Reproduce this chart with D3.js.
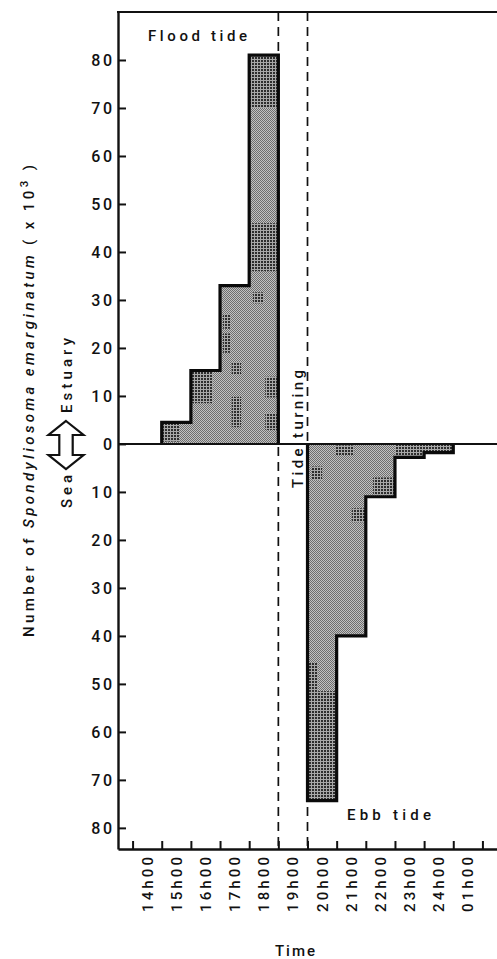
<!DOCTYPE html>
<html>
<head>
<meta charset="utf-8">
<script src="https://cdn.jsdelivr.net/npm/d3@7"></script>
<style>
  html, body { margin: 0; padding: 0; background: #fff; }
  svg { display: block; }
  text { font-family: Roboto, "Liberation Sans", sans-serif; font-weight: 500; fill: #111; }
</style>
</head>
<body>
<svg id="chart" width="497" height="959"></svg>
<script>
// One-hour sampling intervals, identified by their starting hour (24 = midnight, 25 = 01h00)
const hours = [14, 15, 16, 17, 18, 19, 20, 21, 22, 23, 24, 25];
const hourLabels = ["14h00", "15h00", "16h00", "17h00", "18h00", "19h00",
                    "20h00", "21h00", "22h00", "23h00", "24h00", "01h00"];

// Numbers of Spondyliosoma emarginatum (x10^3) per interval
const floodCatch = [0, 4.5, 15.3, 33, 81, 0, 0, 0, 0, 0, 0, 0];   // moving towards the estuary
const ebbCatch   = [0, 0, 0, 0, 0, 0, 74.3, 40, 11, 2.8, 1.8, 0]; // moving towards the sea

// Tide turning between these two hours
const turnStart = 19;
const turnEnd = 20;

// Count axis ticks (same magnitudes above and below zero)
const countTicks = [80, 70, 60, 50, 40, 30, 20, 10, 0];

// Parts of the profiles printed with the darker screen: [fromHour, toHour, fromCount, toCount]
const floodDark = [
  [18.0, 19.0, 70, 81],
  [18.0, 19.0, 36, 46],
  [16.0, 16.75, 8.5, 15.3],
  [15.0, 15.6, 0.5, 4.5],
  [17.4, 17.72, 14.5, 17],
  [17.4, 17.72, 3.5, 9.8],
  [17.1, 17.35, 24, 27],
  [17.1, 17.35, 19, 23],
  [18.13, 18.5, 29.3, 31.6],
  [18.55, 19.0, 2.9, 6.4],
  [18.55, 19.0, 9.7, 14]
];
const ebbDark = [
  [20.0, 21.0, 51.5, 74.3],
  [20.0, 20.35, 45.6, 51.5],
  [20.95, 21.6, 0.3, 2.3],
  [22.25, 23.05, 7, 10.6],
  [20.15, 20.5, 4.7, 7.5],
  [21.52, 22.0, 13.4, 16.3],
  [23.0, 25.0, 0, 2.8]
];

const W = 497, H = 959;
const svg = d3.select("#chart");

const x = d3.scaleLinear().domain([13.5, 26.5]).range([118, 497]);
const y = d3.scaleLinear().domain([-84.4, 90]).range([849, 12]);

// ---- halftone screens ----
const defs = svg.append("defs");
function screen(id, size, bg, dotSize, dot) {
  const p = defs.append("pattern")
    .attr("id", id).attr("patternUnits", "userSpaceOnUse")
    .attr("width", size).attr("height", size);
  p.append("rect").attr("width", size).attr("height", size).attr("fill", bg);
  p.append("rect").attr("width", dotSize).attr("height", dotSize).attr("fill", dot);
  if (size === 2) {
    p.append("rect").attr("x", 1).attr("y", 1).attr("width", 1).attr("height", 1).attr("fill", dot);
  }
}
screen("screenMid", 2, "#c2c2c2", 1, "#6e6e6e");
screen("screenDark", 3, "#a8a8a8", 2, "#2e2e2e");

// ---- tide turning window (dashed verticals) ----
svg.append("g").selectAll("line")
  .data([turnStart, turnEnd])
  .join("line")
  .attr("x1", d => x(d)).attr("x2", d => x(d))
  .attr("y1", y(90)).attr("y2", y(-84.4))
  .attr("stroke", "#111").attr("stroke-width", 1.7)
  .attr("stroke-dasharray", "9,6");

// ---- profiles ----
function profilePoints(values, sign) {
  const pts = [];
  let end = null;
  hours.forEach((h, i) => {
    const v = values[i];
    if (v > 0) {
      if (!pts.length) pts.push([h, 0]);
      pts.push([h, v * sign], [h + 1, v * sign]);
      end = h + 1;
    }
  });
  pts.push([end, 0]);
  return pts;
}
const line = d3.line().x(d => x(d[0])).y(d => y(d[1]));

function drawProfile(values, sign, dark, id) {
  const pts = profilePoints(values, sign);
  const g = svg.append("g");
  defs.append("clipPath").attr("id", id)
    .append("path").attr("d", line(pts) + "Z");
  g.append("path")
    .attr("d", line(pts) + "Z")
    .attr("fill", "url(#screenMid)");
  g.append("g").attr("clip-path", `url(#${id})`)
    .selectAll("rect").data(dark).join("rect")
    .attr("x", d => x(d[0]))
    .attr("width", d => x(d[1]) - x(d[0]))
    .attr("y", d => Math.min(y(d[2] * sign), y(d[3] * sign)))
    .attr("height", d => Math.abs(y(d[3] * sign) - y(d[2] * sign)))
    .attr("fill", "url(#screenDark)");
  g.append("path")
    .attr("d", line(pts))
    .attr("fill", "none")
    .attr("stroke", "#0a0a0a")
    .attr("stroke-width", 3.2)
    .attr("stroke-linejoin", "miter");
}
drawProfile(floodCatch, 1, floodDark, "floodClip");
drawProfile(ebbCatch, -1, ebbDark, "ebbClip");

// ---- zero line and top frame ----
svg.append("line")
  .attr("x1", x(13.5)).attr("x2", W)
  .attr("y1", y(0)).attr("y2", y(0))
  .attr("stroke", "#111").attr("stroke-width", 2);
svg.append("line")
  .attr("x1", x(13.5) - 1).attr("x2", W)
  .attr("y1", y(90)).attr("y2", y(90))
  .attr("stroke", "#111").attr("stroke-width", 2);

// ---- count axis ----
const signedTicks = countTicks.concat(countTicks.filter(d => d > 0).map(d => -d));
const yAxis = svg.append("g")
  .attr("transform", `translate(${x(13.5)},0)`)
  .call(d3.axisLeft(y)
    .tickValues(signedTicks)
    .tickSizeInner(-8)
    .tickSizeOuter(0)
    .tickPadding(6)
    .tickFormat(d => Math.abs(d)));
yAxis.select(".domain").attr("stroke", "#111").attr("stroke-width", 2.4);
yAxis.selectAll(".tick line").attr("stroke", "#111").attr("stroke-width", 2);
yAxis.selectAll(".tick text")
  .attr("font-size", 16)
  .attr("letter-spacing", 2.5)
  .attr("dx", 2.5)
  .attr("fill", "#111")
  .style("font-family", 'Roboto, "Liberation Sans", sans-serif')
  .style("font-weight", 500);

// ---- time axis ----
const xAxis = svg.append("g")
  .attr("transform", `translate(0,${y(-84.4)})`)
  .call(d3.axisBottom(x)
    .tickValues(d3.range(14, 27))
    .tickSizeInner(-8)
    .tickSizeOuter(0)
    .tickFormat(""));
xAxis.select(".domain").attr("stroke", "#111").attr("stroke-width", 2.4);
xAxis.selectAll(".tick line").attr("stroke", "#111").attr("stroke-width", 2);

svg.append("g").selectAll("text")
  .data(hours)
  .join("text")
  .attr("transform", h => `translate(${x(h + 0.5) + 5.5},857) rotate(-90)`)
  .attr("text-anchor", "end")
  .attr("font-size", 15)
  .attr("textLength", 55)
  .attr("lengthAdjust", "spacing")
  .text((h, i) => hourLabels[i]);

svg.append("text")
  .attr("x", 275).attr("y", 956)
  .attr("font-size", 15)
  .attr("textLength", 40).attr("lengthAdjust", "spacing")
  .text("Time");

// ---- count axis title ----
const title = svg.append("text")
  .attr("transform", "translate(34,401) rotate(-90)")
  .attr("text-anchor", "middle")
  .attr("font-size", 15)
  .attr("textLength", 472).attr("lengthAdjust", "spacing");
title.append("tspan").text("Number of ");
title.append("tspan").attr("font-style", "italic").text("Spondyliosoma emarginatum");
title.append("tspan").text(" ( x 10");
title.append("tspan").attr("dy", -6).attr("font-size", 11.5).text("3");
title.append("tspan").attr("dy", 6).text(" )");

// ---- direction key ----
const ax = 66, aTop = 421, aBot = 469, headW = 17.5, shaftW = 6.7, headH = 14;
const arrowPts = [
  [ax, aTop], [ax + headW, aTop + headH], [ax + shaftW, aTop + headH],
  [ax + shaftW, aBot - headH], [ax + headW, aBot - headH], [ax, aBot],
  [ax - headW, aBot - headH], [ax - shaftW, aBot - headH], [ax - shaftW, aTop + headH],
  [ax - headW, aTop + headH]
];
svg.append("path")
  .attr("d", d3.line()(arrowPts) + "Z")
  .attr("fill", "#fff").attr("stroke", "#111").attr("stroke-width", 2.2)
  .attr("stroke-linejoin", "miter");

svg.append("text")
  .attr("transform", "translate(71.5,413) rotate(-90)")
  .attr("font-size", 15)
  .attr("textLength", 75).attr("lengthAdjust", "spacing")
  .text("Estuary");
svg.append("text")
  .attr("transform", "translate(71.5,508) rotate(-90)")
  .attr("font-size", 15)
  .attr("textLength", 33).attr("lengthAdjust", "spacing")
  .text("Sea");

// ---- tide annotations ----
svg.append("text")
  .attr("x", 148).attr("y", 41)
  .attr("font-size", 15)
  .attr("textLength", 99).attr("lengthAdjust", "spacing")
  .text("Flood tide");
svg.append("text")
  .attr("x", 347).attr("y", 820)
  .attr("font-size", 15)
  .attr("textLength", 84).attr("lengthAdjust", "spacing")
  .text("Ebb tide");
svg.append("text")
  .attr("transform", "translate(302.5,488) rotate(-90)")
  .attr("font-size", 15)
  .attr("textLength", 118).attr("lengthAdjust", "spacing")
  .text("Tide turning");
</script>
</body>
</html>
